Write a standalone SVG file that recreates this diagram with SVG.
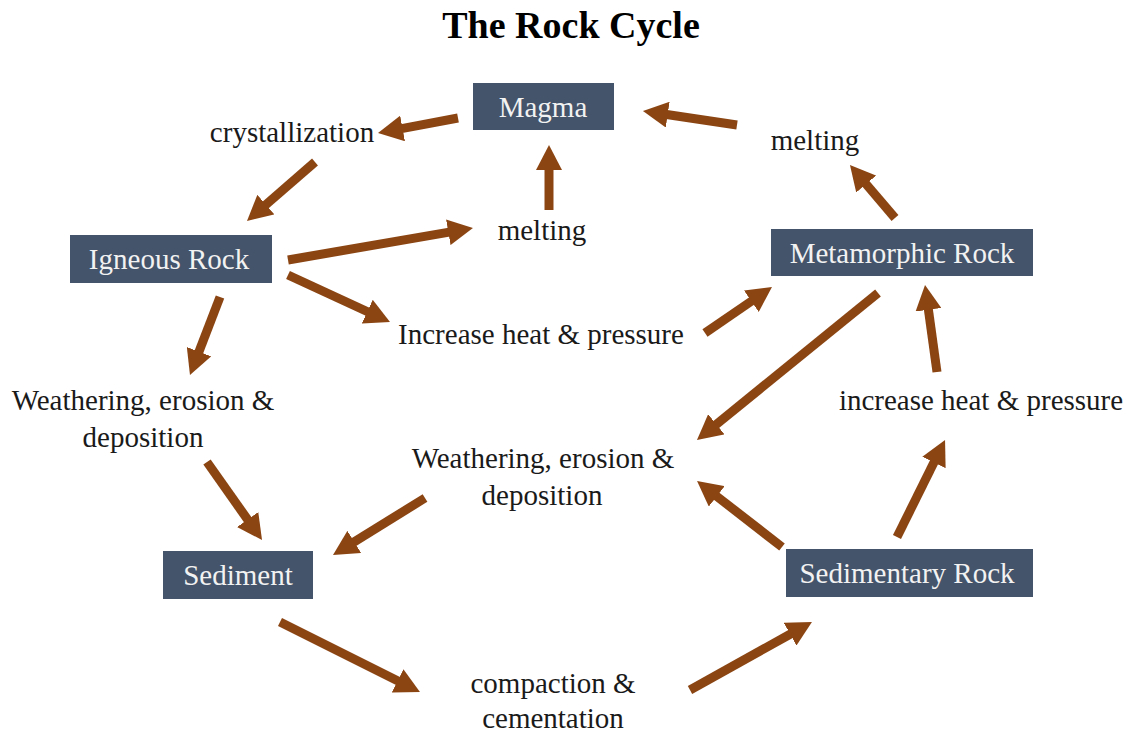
<svg xmlns="http://www.w3.org/2000/svg" width="1133" height="740" viewBox="0 0 1133 740">
<style>
.box{fill:#44546A}
.bt{font-family:"Liberation Serif","Times New Roman",Times,serif;font-weight:normal;font-size:29px;fill:#F2F2F2;text-anchor:middle}
.lb{font-family:"Liberation Serif","Times New Roman",Times,serif;font-weight:normal;font-size:29px;fill:#1a1a1a;text-anchor:middle}
.title{font-family:"Liberation Serif","Times New Roman",Times,serif;font-size:38px;font-weight:bold;fill:#000;text-anchor:middle}
.ar{stroke:#8B4513;stroke-width:9;fill:none;marker-end:url(#ah)}
</style>
<defs>
<marker id="ah" viewBox="0 0 25 26" refX="1" refY="13" markerWidth="25" markerHeight="26" markerUnits="userSpaceOnUse" orient="auto">
<path d="M0,0 L25,13 L0,26 z" fill="#8B4513"/>
</marker>
</defs>
<rect width="1133" height="740" fill="#fff"/>
<text class="title" x="571" y="38">The Rock Cycle</text>

<g id="connectors">
<line class="ar" x1="458" y1="118" x2="401.6" y2="128.6"/>
<line class="ar" x1="315" y1="162" x2="265.1" y2="205.3"/>
<line class="ar" x1="549" y1="210" x2="549" y2="169"/>
<line class="ar" x1="288" y1="260" x2="449.3" y2="232.1"/>
<line class="ar" x1="288" y1="275" x2="368.2" y2="312"/>
<line class="ar" x1="705" y1="333" x2="752.2" y2="300.6"/>
<line class="ar" x1="737" y1="125" x2="666.7" y2="114.5"/>
<line class="ar" x1="895" y1="218" x2="865.5" y2="183.3"/>
<line class="ar" x1="878" y1="293" x2="715.6" y2="424.9"/>
<line class="ar" x1="937" y1="372" x2="928.3" y2="308.8"/>
<line class="ar" x1="897" y1="537" x2="934.4" y2="461.5"/>
<line class="ar" x1="782" y1="547" x2="716" y2="495.7"/>
<line class="ar" x1="425" y1="498" x2="353.4" y2="542.4"/>
<line class="ar" x1="220" y1="297" x2="198.6" y2="352.6"/>
<line class="ar" x1="207" y1="462" x2="248.2" y2="520.4"/>
<line class="ar" x1="280" y1="622" x2="398.5" y2="681.3"/>
<line class="ar" x1="690" y1="690" x2="791" y2="633.7"/>
</g>

<g id="magma"><rect class="box" x="473" y="83" width="141" height="47"/><text class="bt" x="543" y="117">Magma</text></g>
<g id="igneous"><rect class="box" x="70" y="235" width="202" height="48"/><text class="bt" x="169" y="269">Igneous Rock</text></g>
<g id="metamorphic"><rect class="box" x="771" y="229" width="262" height="47"/><text class="bt" x="902" y="263">Metamorphic Rock</text></g>
<g id="sediment"><rect class="box" x="163" y="551" width="150" height="48"/><text class="bt" x="238" y="585">Sediment</text></g>
<g id="sedimentary"><rect class="box" x="786" y="549" width="247" height="48"/><text class="bt" x="907" y="583">Sedimentary Rock</text></g>

<g id="lbl-crystallization"><text class="lb" x="292" y="142">crystallization</text></g>
<g id="lbl-melting-center"><text class="lb" x="542" y="240">melting</text></g>
<g id="lbl-melting-right"><text class="lb" x="815" y="150">melting</text></g>
<g id="lbl-increase-center"><text class="lb" x="541" y="344">Increase heat &amp; pressure</text></g>
<g id="lbl-increase-right"><text class="lb" x="981" y="410">increase heat &amp; pressure</text></g>
<g id="lbl-weathering-left"><text class="lb" x="143" y="410">Weathering, erosion &amp;</text><text class="lb" x="143" y="447">deposition</text></g>
<g id="lbl-weathering-center"><text class="lb" x="543" y="468">Weathering, erosion &amp;</text><text class="lb" x="542" y="505">deposition</text></g>
<g id="lbl-compaction"><text class="lb" x="553" y="693">compaction &amp;</text><text class="lb" x="553" y="728">cementation</text></g>
</svg>
